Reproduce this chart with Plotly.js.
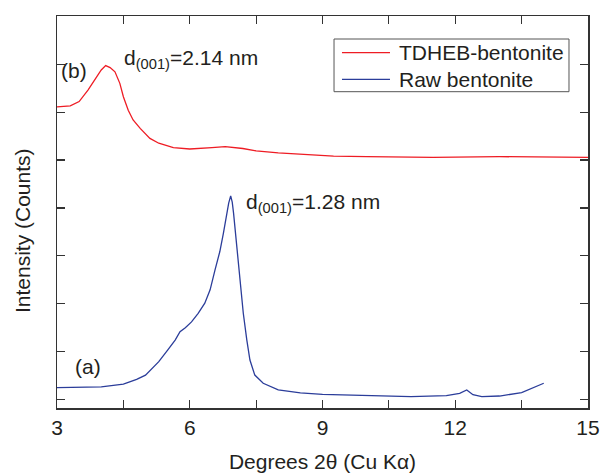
<!DOCTYPE html>
<html>
<head>
<meta charset="utf-8">
<script src="https://cdn.plot.ly/plotly-3.0.1.min.js"></script>
<style>html,body{margin:0;padding:0;background:#fff;}#chart{width:601px;height:475px;}</style>
</head>
<body>
<div id="chart"></div>
<script>
// Raw bentonite (a)
const rawX = [3, 3.5, 4, 4.5, 4.8, 5.0, 5.3, 5.5, 5.67, 5.78, 5.9, 6.04, 6.19, 6.34, 6.46, 6.57, 6.68, 6.76, 6.83, 6.88, 6.925, 6.96, 6.99, 7.06, 7.14, 7.21, 7.29, 7.36, 7.47, 7.66, 8.0, 8.5, 9, 10, 11, 11.8, 12.1, 12.26, 12.4, 12.6, 13, 13.5, 13.76, 14.0];
const rawY = [250, 250, 265, 320, 420, 510, 790, 1030, 1240, 1415, 1500, 1620, 1800, 2010, 2290, 2700, 3090, 3470, 3890, 4100, 4250, 4120, 3890, 3190, 2500, 1800, 1240, 825, 510, 340, 200, 140, 108, 80, 60, 80, 130, 200, 100, 60, 73, 142, 240, 340];
// TDHEB-bentonite (b)
const tdhebX = [3, 3.3, 3.5, 3.7, 3.9, 4.0, 4.1, 4.2, 4.31, 4.42, 4.5, 4.61, 4.72, 4.88, 5.1, 5.3, 5.63, 6.0, 6.5, 6.8, 7.2, 7.5, 8.0, 8.5, 9.25, 10, 11.5, 13, 15];
const tdhebY = [6110, 6130, 6220, 6460, 6740, 6880, 6970, 6930, 6840, 6600, 6320, 6040, 5835, 5660, 5450, 5350, 5260, 5230, 5260, 5280, 5240, 5190, 5150, 5125, 5080, 5070, 5055, 5070, 5055];

const seriesNames = ['TDHEB-bentonite', 'Raw bentonite'];
const seriesColors = ['#ee1c24', '#2b3d9a'];

const xTickVals = [3, 4.5, 6, 7.5, 9, 10.5, 12, 13.5, 15];
const xTickText = ['3', '', '6', '', '9', '', '12', '', '15'];
const yTickVals = [0, 1000, 2000, 3000, 4000, 5000, 6000, 7000, 8000];

const font = 'Liberation Sans, Arial, sans-serif';
const ink = '#231f20';

const traces = [
  {x: tdhebX, y: tdhebY, type: 'scatter', mode: 'lines', name: seriesNames[0],
   line: {color: seriesColors[0], width: 1.3}},
  {x: rawX, y: rawY, type: 'scatter', mode: 'lines', name: seriesNames[1],
   line: {color: seriesColors[1], width: 1.3}}
];

// legend box (drawn as shapes + text so row spacing matches the reference)
const legRowY = [0.9064, 0.8385];
const legendShapes = [
  {type: 'rect', xref: 'paper', yref: 'paper', x0: 0.5217, x1: 0.9642, y0: 0.8069, y1: 0.9413,
   line: {color: '#555', width: 1}, fillcolor: '#fff', layer: 'above'}
];
const legendAnns = [];
seriesNames.forEach((n, i) => {
  legendShapes.push({type: 'line', xref: 'paper', yref: 'paper', x0: 0.5367, x1: 0.6271,
    y0: legRowY[i], y1: legRowY[i], line: {color: seriesColors[i], width: 1.3}, layer: 'above'});
  legendAnns.push({x: 0.6403, y: legRowY[i], xref: 'paper', yref: 'paper', xanchor: 'left', yanchor: 'middle',
    text: n, showarrow: false, font: {family: font, size: 21, color: ink}});
});

const layout = {
  width: 601, height: 475,
  margin: {l: 57, r: 13, t: 16, b: 67},
  paper_bgcolor: '#fff', plot_bgcolor: '#fff',
  font: {family: font, size: 21, color: ink},
  showlegend: false,
  shapes: legendShapes,
  xaxis: {
    range: [3, 15], tickvals: xTickVals, ticktext: xTickText,
    ticks: 'inside', ticklen: 8, tickwidth: 1.2, tickcolor: '#333',
    showline: true, linecolor: '#333', linewidth: 1.5, mirror: 'ticks',
    showgrid: false, zeroline: false,
    tickfont: {family: font, size: 21, color: ink},
    title: {text: 'Degrees 2θ (Cu Kα)', font: {family: font, size: 21, color: ink}, standoff: 16},
    automargin: false
  },
  yaxis: {
    range: [-177, 8006], tickvals: yTickVals, showticklabels: false,
    ticks: 'inside', ticklen: 8, tickwidth: 1.2, tickcolor: '#333',
    showline: true, linecolor: '#333', linewidth: 1.5, mirror: 'ticks',
    showgrid: false, zeroline: false,
    automargin: false
  },
  annotations: [
    {x: -0.0659, y: 0.4515, xref: 'paper', yref: 'paper', text: 'Intensity (Counts)', textangle: -90,
     showarrow: false, xanchor: 'center', yanchor: 'middle',
     font: {family: font, size: 21, color: ink}},
    {x: 3.384, y: 6860, xref: 'x', yref: 'y', text: '(b)', showarrow: false,
     font: {family: font, size: 21, color: ink}},
    {x: 3.70, y: 680, xref: 'x', yref: 'y', text: '(a)', showarrow: false,
     font: {family: font, size: 21, color: ink}},
    {x: 4.47, y: 7100, xref: 'x', yref: 'y', xanchor: 'left', text: 'd<sub>(001)</sub>=2.14 nm', showarrow: false,
     font: {family: font, size: 21, color: ink}},
    {x: 7.23, y: 4100, xref: 'x', yref: 'y', xanchor: 'left', text: 'd<sub>(001)</sub>=1.28 nm', showarrow: false,
     font: {family: font, size: 21, color: ink}}
  ].concat(legendAnns)
};

Plotly.newPlot('chart', traces, layout, {displayModeBar: false, staticPlot: true});
</script>
</body>
</html>
